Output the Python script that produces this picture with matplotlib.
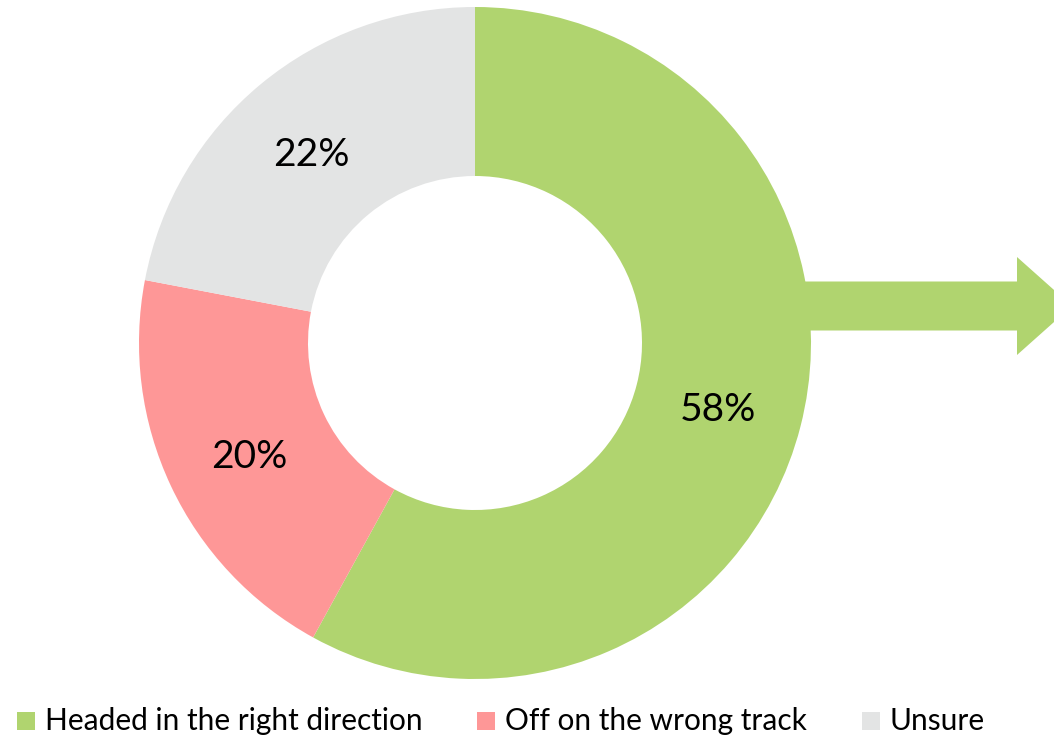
import matplotlib
matplotlib.use("Agg")
from matplotlib import pyplot as plt
from matplotlib.patches import FancyArrow, Rectangle

plt.rcParams["font.family"] = ["Lato", "DejaVu Sans"]

# data
categories = ["Headed in the right direction", "Off on the wrong track", "Unsure"]
shares = [58, 20, 22]
colors = ["#B0D46F", "#FE9797", "#E3E4E4"]

# layout (pixel units, y measured from bottom)
W, H = 1054, 739
center = (475, H - 343)
outer_r = 336
ring_w = 169
label_pos = [(718, H - 410), (249, H - 457), (311, H - 155)]
legend_x = [17, 477, 862]
legend_y = H - 721

fig = plt.figure(figsize=(W / 100, H / 100), dpi=100)
ax = fig.add_axes([0, 0, 1, 1])

# arrow behind the ring
arrow = FancyArrow(
    760, H - 306, 1072 - 760, 0,
    width=49, head_width=98, head_length=55,
    length_includes_head=True, color=colors[0], linewidth=0, zorder=1,
)
ax.add_patch(arrow)

wedges, _ = ax.pie(
    shares,
    colors=colors,
    startangle=90,
    counterclock=False,
    radius=outer_r,
    center=center,
    wedgeprops=dict(width=ring_w, linewidth=0),
    frame=True,
)
for w in wedges:
    w.set_zorder(2)

for val, (x, y) in zip(shares, label_pos):
    ax.text(x, y, f"{val}%", ha="center", va="center", fontsize=28,
            color="black", zorder=3)

# legend
for name, col, x in zip(categories, colors, legend_x):
    ax.add_patch(Rectangle((x, legend_y - 9), 18, 18, color=col, linewidth=0))
    ax.text(x + 28, legend_y, name, ha="left", va="center", fontsize=21.5,
            color="black")

ax.set_xlim(0, W)
ax.set_ylim(0, H)
ax.set_aspect("equal")
ax.axis("off")

fig.savefig("out.png", dpi=100, facecolor="white")
